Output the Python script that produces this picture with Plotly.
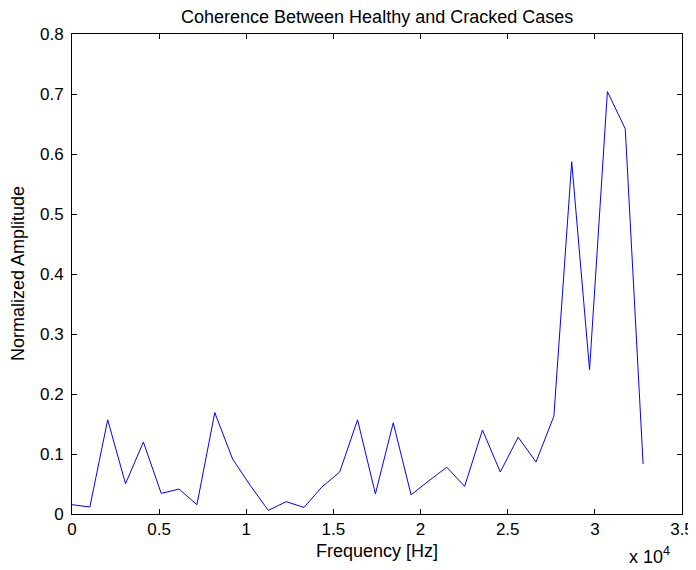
import plotly.graph_objects as go

freq_hz = [0, 1024, 2048, 3072, 4096, 5120, 6144, 7168, 8192, 9216, 10240,
           11264, 12288, 13312, 14336, 15360, 16384, 17408, 18432, 19456, 20480,
           21504, 22528, 23552, 24576, 25600, 26624, 27648, 28672, 29696, 30720,
           31744, 32768]
amplitude = [0.0155, 0.0117, 0.157, 0.0505, 0.120, 0.0344, 0.0416, 0.0155, 0.169,
             0.0916, 0.047, 0.006, 0.0205, 0.011, 0.045, 0.070, 0.157, 0.0335,
             0.152, 0.032, 0.0555, 0.078, 0.046, 0.140, 0.070, 0.128, 0.0867,
             0.163, 0.587, 0.2405, 0.704, 0.642, 0.0833]
x_tick_vals = [0, 5000, 10000, 15000, 20000, 25000, 30000, 35000]
x_tick_text = ["0", "0.5", "1", "1.5", "2", "2.5", "3", "3.5"]
y_tick_vals = [0, 0.1, 0.2, 0.3, 0.4, 0.5, 0.6, 0.7, 0.8]
y_tick_text = ["0", "0.1", "0.2", "0.3", "0.4", "0.5", "0.6", "0.7", "0.8"]

FONT = "Liberation Sans, Arial, sans-serif"
TICK_SIZE = 17
TEXT_SIZE = 18

# the page body adds an 8px offset; margins compensate so the plot box lands
# at x 72..682, y 34..514 in the window
W, H = 696, 570
ML, MR, MT, MB = 64, 22, 26, 64
PW = W - ML - MR
PH = H - MT - MB

fig = go.Figure()
fig.add_trace(go.Scatter(x=freq_hz, y=amplitude, mode="lines",
                         line=dict(color="#0000ff", width=1), showlegend=False))

axis_common = dict(showgrid=False, zeroline=False, showline=True, linecolor="black",
                   linewidth=1, mirror="allticks", ticks="inside", ticklen=5,
                   tickcolor="black", automargin=False,
                   tickfont=dict(family=FONT, size=TICK_SIZE, color="black"))

fig.update_layout(
    width=W, height=H,
    margin=dict(l=ML, r=MR, t=MT, b=MB),
    paper_bgcolor="white", plot_bgcolor="white",
    font=dict(family=FONT, size=TEXT_SIZE, color="black"),
    xaxis=dict(range=[0, 35000], tickvals=x_tick_vals, ticktext=x_tick_text, **axis_common),
    yaxis=dict(range=[0, 0.8], tickvals=y_tick_vals, ticktext=y_tick_text,
               ticklabelstandoff=4, **axis_common),
)

fig.add_annotation(text="Coherence Between Healthy and Cracked Cases", xref="paper", yref="paper",
                   x=0.5, y=1 + 17 / PH, xanchor="center", yanchor="middle", showarrow=False,
                   font=dict(family=FONT, size=TEXT_SIZE, color="black"))
fig.add_annotation(text="Frequency [Hz]", xref="paper", yref="paper",
                   x=(377 - 8 - ML) / PW, y=-37 / PH, xanchor="center", yanchor="middle",
                   showarrow=False, font=dict(family=FONT, size=TEXT_SIZE, color="black"))
fig.add_annotation(text="Normalized Amplitude", xref="paper", yref="paper",
                   x=-54 / PW, y=0.5, xanchor="center", yanchor="middle", textangle=-90,
                   showarrow=False, font=dict(family=FONT, size=TEXT_SIZE, color="black"))
fig.add_annotation(text="x 10<sup>4</sup>", xref="paper", yref="paper",
                   x=1 - 10 / PW, y=-41 / PH, xanchor="right", yanchor="middle",
                   showarrow=False, font=dict(family=FONT, size=TEXT_SIZE, color="black"))

fig.write_html("out.html")
